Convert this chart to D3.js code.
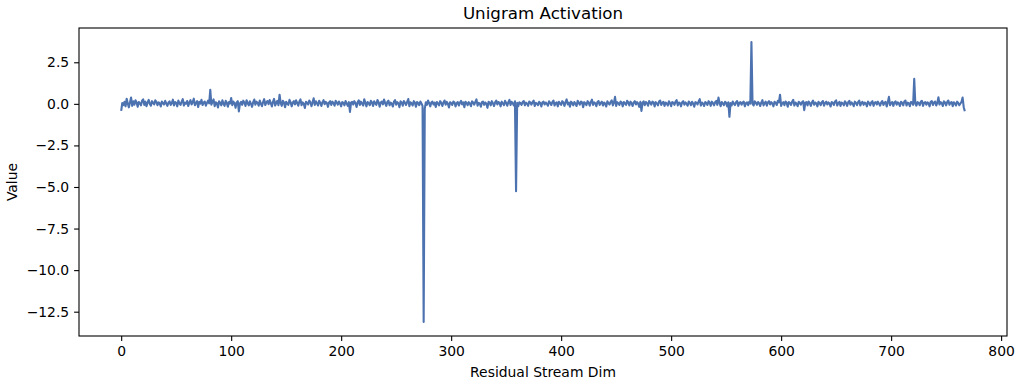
<!DOCTYPE html>
<html><head><meta charset="utf-8">
<script src="https://cdn.jsdelivr.net/npm/d3@7"></script>
<style>body{margin:0;background:#fff}text{font-family:"DejaVu Sans",sans-serif;fill:#000}</style>
</head><body><svg id="c" width="1019" height="385"></svg>
<script>
const title = "Unigram Activation";
const xLabel = "Residual Stream Dim";
const yLabel = "Value";
const xTicks = [0,100,200,300,400,500,600,700,800];
const yTicks = [2.5,0,-2.5,-5,-7.5,-10,-12.5];
const values = [
-0.42,0.05,-0.08,0.12,-0.15,0.31,0.02,-0.21,0.09,0.38,-0.12,0.15,-0.05,0.22,0.08,-0.18,
0.11,0.04,-0.09,0.19,0.27,-0.06,0.13,-0.14,0.07,0.24,0.01,-0.11,0.16,0.06,-0.03,0.21,
0.12,-0.08,0.09,0.03,-0.16,0.14,0.05,-0.04,0.18,0.02,-0.12,0.08,0.15,-0.07,0.04,0.25,
-0.09,0.11,0.06,-0.15,0.2,0.03,-0.06,0.13,0.28,-0.1,0.07,0.01,0.17,-0.13,0.09,0.22,
-0.04,0.1,0.31,-0.08,0.05,0.16,-0.19,0.12,0.02,0.24,-0.07,0.08,0.14,-0.11,0.06,0.19,
0.03,0.85,-0.05,0.12,0.27,-0.14,0.09,0.04,-0.22,0.15,0.07,-0.09,0.21,0.01,-0.12,0.18,
0.06,-0.17,0.11,0.02,0.35,-0.08,0.14,0.05,-0.24,0.09,0.16,-0.45,0.03,0.12,-0.06,0.19,
0.08,-0.13,0.22,0.04,-0.09,0.15,0.01,-0.18,0.1,0.26,-0.05,0.13,0.07,-0.11,0.2,0.02,
-0.14,0.11,0.28,-0.07,0.09,0.17,-0.02,0.23,0.05,-0.16,0.12,0.3,-0.1,0.06,0.18,-0.08,
0.55,0.04,-0.12,0.19,0.08,-0.2,0.13,0.02,-0.06,0.24,0.1,-0.15,0.07,0.16,-0.03,0.21,
0.05,-0.11,0.14,0.27,-0.08,0.09,0.01,-0.25,0.12,0.06,-0.04,0.2,0.11,-0.14,0.08,0.33,
-0.06,0.15,0.03,-0.1,0.18,0.07,-0.13,0.1,0.22,-0.02,0.12,0.05,-0.18,0.09,0.16,-0.07,
0.13,0.04,-0.11,0.19,0.08,-0.05,0.14,0.02,-0.15,0.11,0.06,-0.09,0.17,0.03,-0.12,0.1,
-0.48,0.07,0.12,-0.04,0.16,0.05,-0.19,0.09,0.21,-0.07,0.13,0.02,-0.1,0.28,0.06,-0.15,
0.11,0.04,-0.08,0.18,0.09,-0.13,0.15,0.03,-0.06,0.23,0.1,-0.17,0.08,0.14,-0.03,0.26,
0.05,-0.12,0.11,0.19,-0.09,0.07,0.02,-0.16,0.13,0.22,-0.05,0.1,0.04,-0.2,0.15,0.08,
-0.11,0.17,0.06,-0.07,0.12,0.29,-0.14,0.09,0.03,-0.1,0.16,0.07,-0.18,0.11,0.05,-0.08,
0.14,0.02,-0.12,-13.12,-0.3,0.1,-0.06,0.2,0.04,-0.15,0.09,0.13,-0.04,0.07,-0.19,0.11,
0.03,-0.09,0.16,0.06,-0.13,0.08,0.2,-0.05,0.12,0.01,-0.22,0.1,0.05,-0.07,0.14,0.09,
-0.16,0.04,0.11,-0.1,0.07,0.18,-0.03,0.09,-0.2,0.13,0.06,-0.08,0.1,0.02,-0.14,0.15,
0.08,-0.05,0.12,0.27,-0.11,0.06,0.03,-0.17,0.1,0.14,-0.06,0.08,0.01,-0.24,0.12,0.07,
-0.09,0.16,0.04,-0.13,0.09,0.2,-0.04,0.11,0.06,-0.15,0.13,0.02,-0.08,0.18,0.05,-0.11,
0.1,0.24,-0.07,0.12,0.03,-0.1,0.15,-5.25,0.06,-0.14,0.09,0.04,-0.06,0.11,0.17,-0.09,
0.07,0.02,-0.12,0.14,0.08,-0.05,0.1,0.19,-0.13,0.06,0.03,-0.08,0.12,0.05,-0.16,0.09,
0.13,-0.04,0.08,0.01,-0.11,0.15,0.06,-0.07,0.11,0.2,-0.1,0.04,0.09,-0.15,0.12,0.03,
-0.06,0.16,0.08,-0.12,0.1,0.27,-0.03,0.07,-0.17,0.13,0.05,-0.09,0.11,0.02,-0.13,0.18,
0.06,-0.05,0.14,0.09,-0.2,0.1,0.04,-0.08,0.16,0.07,-0.11,0.12,0.25,-0.06,0.09,0.03,
-0.14,0.11,0.17,-0.07,0.06,0.13,-0.1,0.08,0.02,-0.16,0.15,0.05,-0.04,0.12,0.21,-0.09,
0.07,0.42,-0.12,0.1,0.04,-0.07,0.14,0.08,-0.15,0.11,0.03,-0.06,0.18,0.09,-0.1,0.13,
0.05,-0.13,0.08,0.16,-0.04,0.1,0.02,-0.18,0.12,-0.42,0.06,0.15,-0.08,0.11,0.04,-0.11,
0.17,0.07,-0.05,0.13,0.09,-0.16,0.1,0.03,-0.09,0.14,0.2,-0.07,0.06,0.12,-0.12,0.08,
0.02,-0.1,0.15,0.05,-0.14,0.11,0.07,-0.06,0.13,0.22,-0.09,0.08,0.04,-0.15,0.1,0.16,
-0.05,0.09,0.01,-0.11,0.14,0.06,-0.08,0.12,0.03,-0.17,0.1,0.07,-0.04,0.15,0.28,-0.1,
0.08,0.02,-0.13,0.11,0.05,-0.07,0.16,0.09,-0.12,0.13,0.04,-0.09,0.1,0.18,-0.06,0.38,
0.07,-0.14,0.11,0.03,-0.08,0.12,0.06,-0.16,0.09,-0.78,0.05,-0.1,0.14,0.02,-0.07,0.1,
0.17,-0.12,0.06,0.11,-0.05,0.08,0.13,-0.15,0.04,0.09,-0.08,0.12,0.02,3.72,0.0,-0.1,
0.15,0.07,-0.06,0.11,0.04,-0.13,0.09,0.22,-0.09,0.05,0.13,-0.11,0.08,0.16,-0.04,0.1,
0.03,-0.15,0.12,0.06,-0.07,0.18,0.09,0.55,-0.12,0.04,0.1,-0.08,0.14,0.07,-0.17,0.11,
0.05,-0.06,0.13,0.24,-0.1,0.08,0.02,-0.14,0.12,0.06,-0.05,0.1,0.16,-0.38,0.07,0.11,
-0.09,0.14,0.04,-0.12,0.09,0.19,-0.06,0.08,0.03,-0.15,0.12,0.05,-0.08,0.1,0.17,-0.11,
0.06,0.13,-0.04,0.09,0.02,-0.16,0.11,0.07,-0.07,0.14,0.21,-0.1,0.05,0.12,-0.13,0.08,
0.03,-0.09,0.15,0.06,-0.12,0.1,0.18,-0.05,0.09,0.01,-0.14,0.13,0.07,-0.08,0.11,0.2,
-0.1,0.06,0.12,-0.06,0.08,0.03,-0.15,0.14,0.05,-0.09,0.1,0.16,-0.12,0.07,0.11,-0.04,
0.13,0.02,-0.11,0.09,0.17,-0.07,0.06,0.12,-0.16,0.1,0.42,-0.08,0.05,0.11,-0.12,0.08,
0.15,-0.05,0.09,0.03,-0.13,0.12,0.06,-0.09,0.14,0.2,-0.1,0.07,0.04,-0.14,0.11,0.08,
-0.06,1.5,0.02,-0.11,0.1,0.06,-0.08,0.13,0.18,-0.12,0.07,0.11,-0.05,0.09,0.03,-0.15,
0.12,0.17,-0.07,0.08,0.14,-0.1,0.06,0.4,-0.04,0.1,0.05,-0.13,0.15,0.08,-0.09,0.12,
0.2,-0.06,0.07,0.11,-0.14,0.09,0.03,-0.1,0.13,0.06,-0.08,0.02,0.12,0.38,-0.2,-0.45
];

const svg = d3.select("#c");
const L = 79, R = 1007, T = 28, B = 336;
const n = values.length;
const xmin = 0, xmax = n - 1, xm = (xmax - xmin) * 0.05;
const ymin = d3.min(values), ymax = d3.max(values), ym = (ymax - ymin) * 0.05;
const x = d3.scaleLinear().domain([xmin - xm, xmax + xm]).range([L, R]);
const y = d3.scaleLinear().domain([ymin - ym, ymax + ym]).range([B, T]);

const line = d3.line().x((d, i) => x(i)).y(d => y(d));
svg.append("defs").append("clipPath").attr("id","clp").append("rect")
  .attr("x", L).attr("y", T).attr("width", R - L).attr("height", B - T);
svg.append("path").datum(values).attr("d", line)
  .attr("clip-path","url(#clp)")
  .attr("fill","none").attr("stroke","#4c72b0").attr("stroke-width",2.1)
  .attr("stroke-linejoin","round").attr("stroke-linecap","butt");

const xa = svg.append("g").attr("transform", `translate(0,${B})`)
  .call(d3.axisBottom(x).tickValues(xTicks).tickSize(4.9).tickPadding(4.9).tickFormat(d3.format("d")));
const ya = svg.append("g").attr("transform", `translate(${L},0)`)
  .call(d3.axisLeft(y).tickValues(yTicks).tickSize(4.9).tickPadding(4.9).tickFormat(d => d3.format(".1f")(d).replace("-", "\u2212")));
[xa, ya].forEach(a => {
  a.select(".domain").remove();
  a.selectAll("line").attr("stroke", "#000").attr("stroke-width", 1.1);
  a.selectAll("text").style("font-size", "13.9px").style("font-family", "DejaVu Sans");
});
svg.append("rect").attr("x", L).attr("y", T).attr("width", R - L).attr("height", B - T)
  .attr("fill", "none").attr("stroke", "#000").attr("stroke-width", 1.1);

svg.append("text").attr("x", (L + R) / 2).attr("y", 19).attr("text-anchor", "middle")
  .style("font-size", "16.7px").text(title);
svg.append("text").attr("x", (L + R) / 2).attr("y", 377).attr("text-anchor", "middle")
  .style("font-size", "13.9px").text(xLabel);
svg.append("text").attr("transform", `translate(17,${(T + B) / 2}) rotate(-90)`)
  .attr("text-anchor", "middle").style("font-size", "13.9px").text(yLabel);
</script></body></html>
